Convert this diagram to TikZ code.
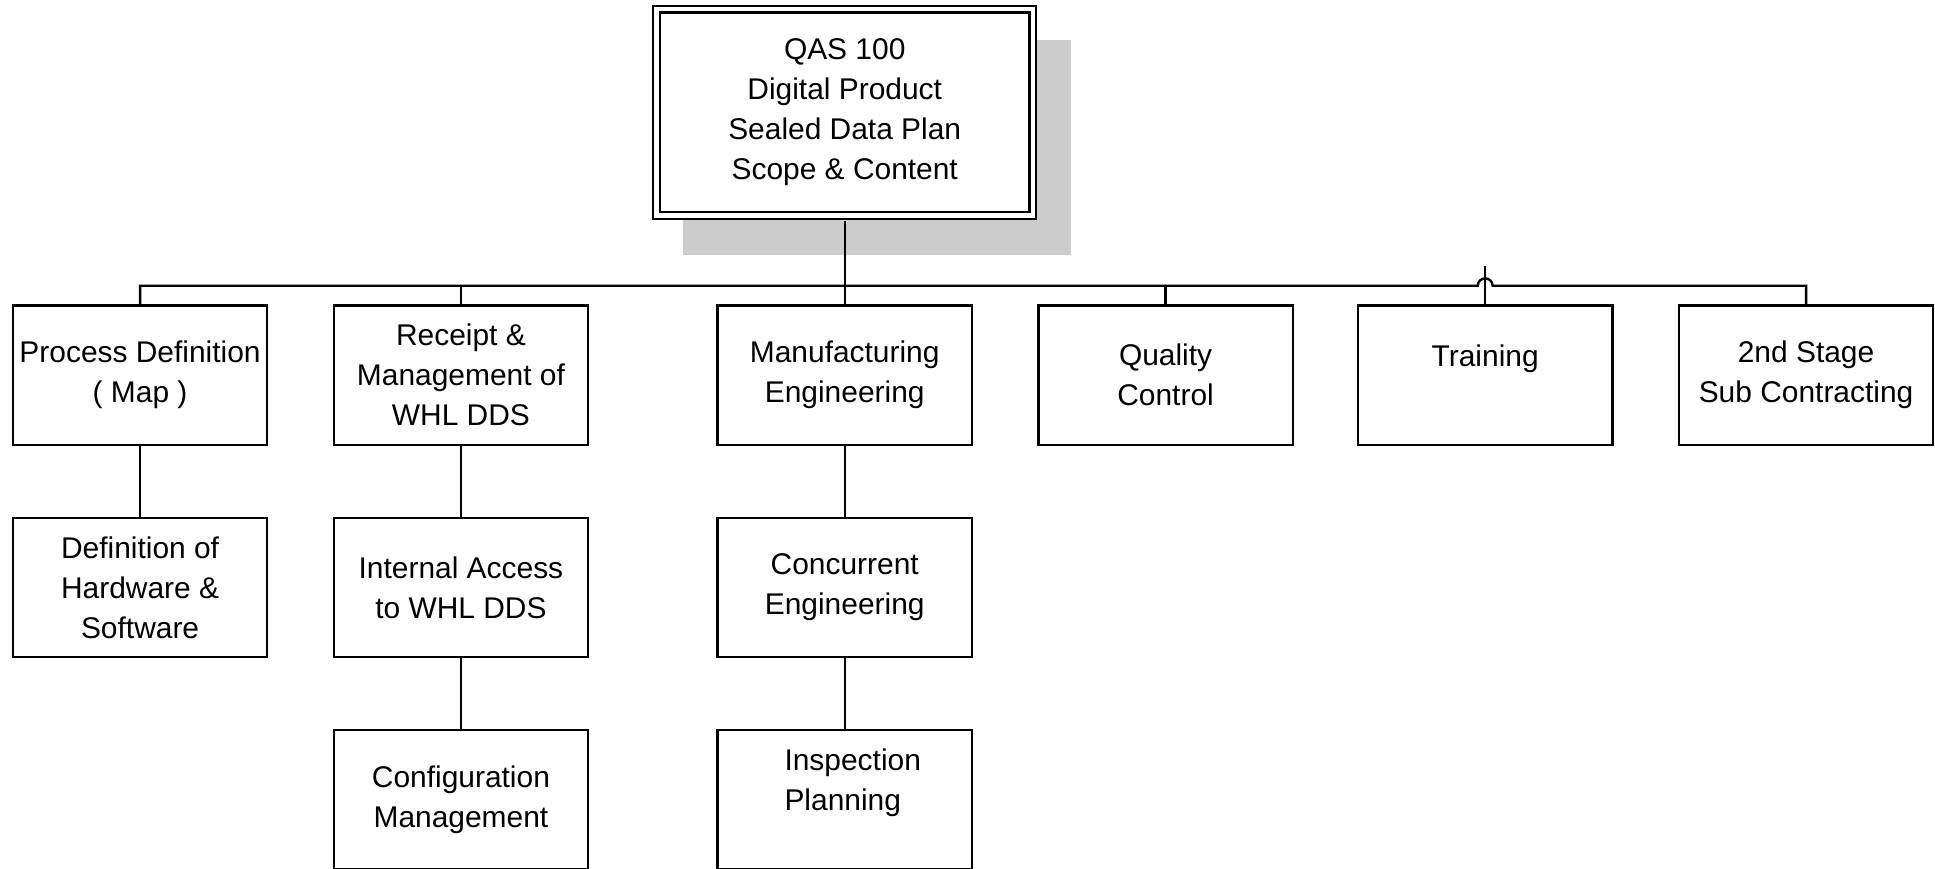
\documentclass[tikz,border=0pt]{standalone}
\usepackage{fontspec}
\setmainfont{Liberation Sans}

\begin{document}
\begin{tikzpicture} [scale = 1,
  every node/.style = {font=\fontsize{13.8pt}{18.4pt}\selectfont, align=center},
  box/.style = {draw, line width=1.1pt, minimum width=4.12cm, minimum height=2.26cm, inner sep=0pt},
  headbox/.style = {draw, double, line width=1.1pt, double distance=2pt, fill=white, minimum width=6.1cm, minimum height=3.34cm, inner sep=0pt},
  conn/.style = {black, line width=1.1pt}]
\useasboundingbox (0,0) rectangle (31.36,-14.08);
% shadow behind the head box
\fill[black!20] (11.07,-0.65) rectangle (17.36,-4.13);
\node[headbox] (qas) at (13.69,-1.82){QAS 100\\Digital Product\\Sealed Data Plan\\Scope \& Content};
% first row
\node[box] (pd) at (2.27,-6.08){Process Definition\\( Map )};
\node[box] (rm) at (7.47,-6.08){Receipt \&\\Management of\\WHL DDS};
\node[box] (me) at (13.69,-6.08){Manufacturing\\Engineering};
\node[box] (qc) at (18.89,-6.08){Quality\\Control};
\node[box] (tr) at (24.07,-6.08){Training\\~};
\node[box] (sc) at (29.27,-6.08){2nd Stage\\Sub Contracting};
% second row
\node[box] (dh) at (2.27,-9.52){Definition of\\Hardware \&\\Software};
\node[box] (ia) at (7.47,-9.52){Internal Access\\to WHL DDS};
\node[box] (ce) at (13.69,-9.52){Concurrent\\Engineering};
% third row
\node[box] (cm) at (7.47,-12.96){Configuration\\Management};
\node[box, align=left] (ip) at (13.69,-12.96){\hspace*{0.26cm}Inspection\\\hspace*{0.26cm}Planning\\~};
% connectors
\draw[conn] ([yshift=-2pt]qas.south) -- (me.north);
\draw[conn] (pd.north) -- ++(0,0.3) -- ([xshift=-0.12cm, yshift=0.3cm]tr.north) arc[start angle=180, end angle=0, radius=0.12cm] -- ([yshift=0.3cm]sc.north) -- (sc.north);
\foreach \n in {rm, qc}
  \draw[conn] (\n.north) -- ++(0,0.3);
\draw[conn] (tr.north) -- ++(0,0.62);
\draw[conn] (pd) -- (dh);
\draw[conn] (rm) -- (ia);
\draw[conn] (ia) -- (cm);
\draw[conn] (me) -- (ce);
\draw[conn] (ce) -- (ip);
\end{tikzpicture}
\end{document}
